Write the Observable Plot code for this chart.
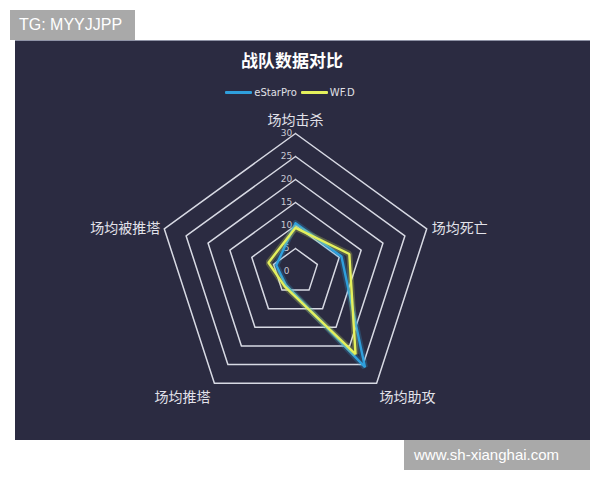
<!DOCTYPE html>
<html><head><meta charset="utf-8">
<script src="https://cdn.jsdelivr.net/npm/d3@7"></script>
<script src="https://cdn.jsdelivr.net/npm/@observablehq/plot@0.6"></script>
<style>
body{margin:0;background:#fff;width:600px;height:480px;position:relative;overflow:hidden;font-family:"Noto Sans CJK SC","Noto Sans",sans-serif;}
#wm1{position:absolute;left:10px;top:10px;width:125px;height:30px;background:#a9a9a9;color:#fff;font:16px "Liberation Sans",Arial,sans-serif;line-height:30px;padding-left:9px;box-sizing:border-box;}
#wm2{position:absolute;left:404px;top:440px;width:186px;height:30px;background:#a9a9a9;color:#fff;font:15px "Liberation Sans",Arial,sans-serif;line-height:30px;padding-left:10px;box-sizing:border-box;}
#panel{position:absolute;left:15px;top:40px;width:575px;height:400px;background:#2b2b41;border-top:1px solid #8f93a6;box-sizing:border-box;}
#title{position:absolute;top:7px;left:0;width:554px;text-align:center;color:#fff;font-weight:bold;font-size:17px;line-height:24px;}
#legend{position:absolute;top:43px;left:0;width:554px;height:16px;display:flex;justify-content:center;align-items:center;font:10px "DejaVu Sans",sans-serif;color:#e0e0e6;}
.sw{display:inline-block;width:27px;height:3px;margin-right:2px;border-radius:1px;}
.lab{margin-right:4px;}
#chart{position:absolute;top:59px;left:0;}
</style></head>
<body>
<div id="wm1">TG: MYYJJPP</div>
<div id="panel">
  <div id="title"></div>
  <div id="legend"></div>
  <div id="chart"></div>
</div>
<div id="wm2">www.sh-xianghai.com</div>
<script>
const titleText = "战队数据对比";
const indicators = ["场均击杀", "场均死亡", "场均助攻", "场均推塔", "场均被推塔"];
const seriesNames = ["eStarPro", "WF.D"];
const eStarPro = [10.5, 10.5, 25.7, 3.6, 4.4];
const wfd = [9.5, 12.3, 22.2, 4.0, 6.2];
const ringLevels = [5, 10, 15, 20, 25, 30];
const tickLabels = [0, 5, 10, 15, 20, 25, 30];
const maxValue = 30;
const colors = ["#2f9fdc", "#e4f05c"];

document.getElementById("title").textContent = titleText;
const legend = document.getElementById("legend");
seriesNames.forEach((n, i) => {
  const s = document.createElement("span"); s.className = "sw"; s.style.background = colors[i];
  const t = document.createElement("span"); t.className = "lab"; t.textContent = n;
  legend.appendChild(s); legend.appendChild(t);
});

const N = indicators.length;
const ang = i => i * 2 * Math.PI / N;
const pt = (v, i) => ({x: v * Math.sin(ang(i)), y: v * Math.cos(ang(i))});

const rings = ringLevels.flatMap(level => d3.range(N + 1).map(i => ({level, ...pt(level, i % N)})));
const seriesData = [eStarPro, wfd].map((vals, s) =>
  d3.range(N + 1).map(i => ({series: seriesNames[s], ...pt(vals[i % N], i % N)})));

const k = 4.6, W = 575, H = 340, cx = 280, cy = 171;

const nameMarks = indicators.map((name, i) => {
  const p = pt(maxValue, i);
  const s = Math.sin(ang(i)), c = Math.cos(ang(i));
  const anchor = s > 0.1 ? "start" : s < -0.1 ? "end" : "middle";
  const dx = s > 0.1 ? (c < -0.5 ? 3 : 5) : s < -0.1 ? -4 : 0;
  const dy = c > 0.5 ? -13 : c < -0.5 ? 14 : 0;
  return Plot.text([name], {x: () => p.x, y: () => p.y, text: d => d, textAnchor: anchor, dx, dy,
    fontSize: 14, fill: "#e2e2ea"});
});

const seriesMarks = seriesData.flatMap((d, s) => [
  Plot.line(d, {x: "x", y: "y", stroke: colors[s], strokeWidth: 6, strokeOpacity: 0.25, strokeLinejoin: "miter"}),
  Plot.line(d, {x: "x", y: "y", stroke: colors[s], strokeWidth: 2.4, strokeLinejoin: "miter"})
]);

const chart = Plot.plot({
  width: W, height: H, margin: 0,
  x: {domain: [-cx / k, (W - cx) / k], range: [0, W], axis: null},
  y: {domain: [-(H - cy) / k, cy / k], range: [H, 0], axis: null},
  style: {background: "transparent", fontFamily: "'Noto Sans CJK SC', sans-serif", overflow: "visible"},
  marks: [
    Plot.line(rings, {x: "x", y: "y", z: "level", stroke: "#d8dae4", strokeWidth: 1.5}),
    Plot.text(tickLabels, {x: () => 0, y: d => d, text: d => String(d), dx: -9, fontSize: 9, fill: "#c8c8d2",
      fontFamily: "'DejaVu Sans', sans-serif"}),
    ...seriesMarks,
    ...nameMarks
  ]
});
document.getElementById("chart").appendChild(chart);
</script>
</body></html>
